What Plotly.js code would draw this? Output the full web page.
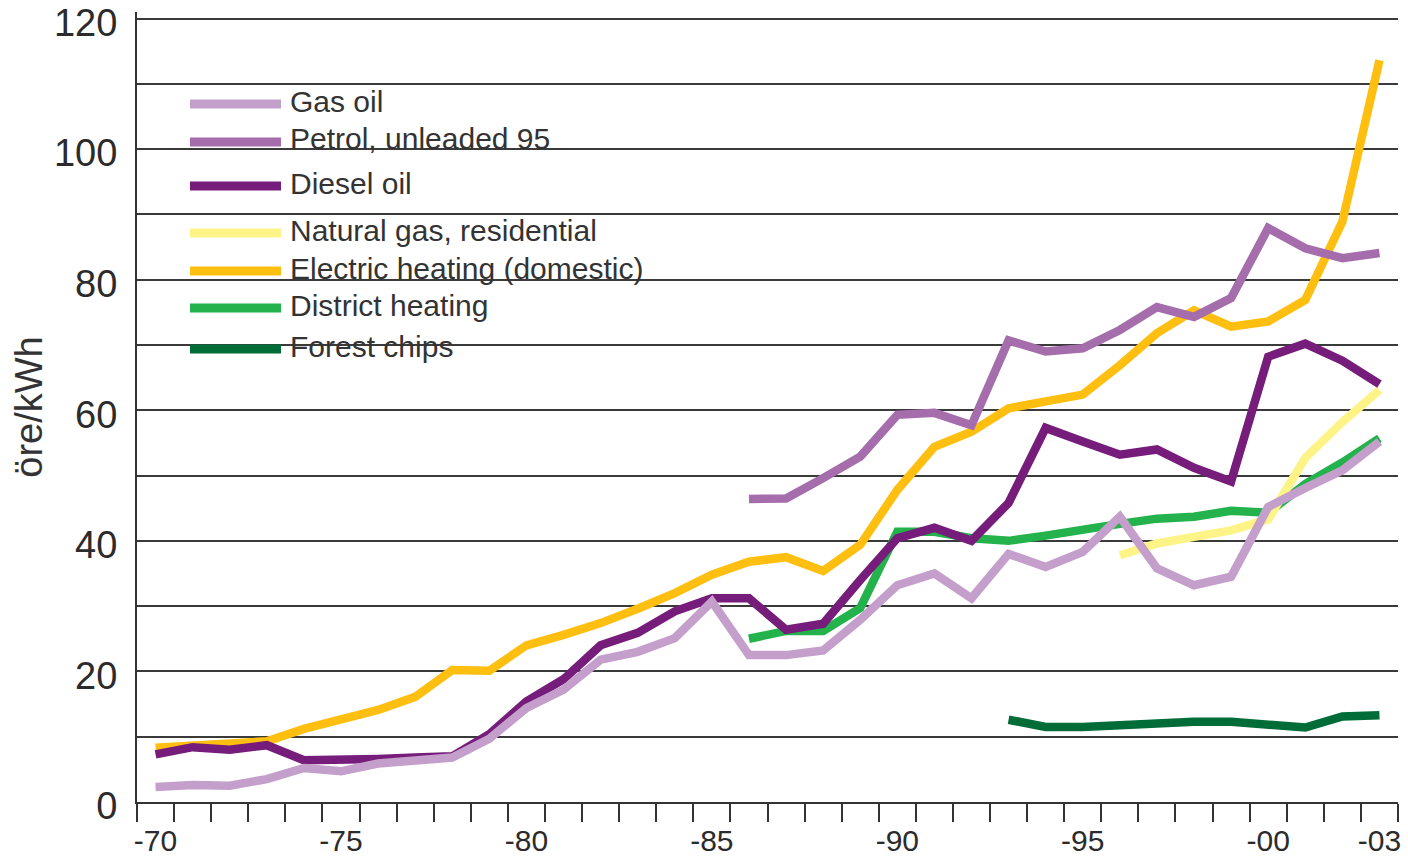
<!DOCTYPE html>
<html>
<head>
<meta charset="utf-8">
<script src="https://cdn.plot.ly/plotly-3.0.1.min.js"></script>
<style>
  html, body { margin: 0; padding: 0; background: #fff; }
  #chart { width: 1408px; height: 858px; }
</style>
</head>
<body>
<div id="chart"></div>
<script>
    // energy prices, öre/kWh, 1970 - 2003
    var years = [1970, 1971, 1972, 1973, 1974, 1975, 1976, 1977, 1978, 1979,
                 1980, 1981, 1982, 1983, 1984, 1985, 1986, 1987, 1988, 1989,
                 1990, 1991, 1992, 1993, 1994, 1995, 1996, 1997, 1998, 1999,
                 2000, 2001, 2002, 2003];

    var seriesNames = ['Gas oil', 'Petrol, unleaded 95', 'Diesel oil', 'Natural gas, residential',
                       'Electric heating (domestic)', 'District heating', 'Forest chips'];
    var seriesColors = ['#c49fcb', '#a56dab', '#761c7a', '#fdf387', '#ffbf10', '#23b24b', '#006d38'];

    var gasOil = [2.3, 2.6, 2.5, 3.5, 5.2, 4.7, 5.9, 6.2, 6.8, 9.7,
                  14.4, 17.2, 21.8, 23.0, 25.1, 30.7, 22.5, 22.5, 23.2, 27.9,
                  33.2, 35.0, 31.2, 38.0, 36.0, 38.3, 43.7, 35.8, 33.2, 34.5,
                  45.2, 48.1, 50.8, 55.2];
    // from 1986
    var petrol = [46.4, 46.5, 49.6, 52.9, 59.3, 59.6, 57.7, 70.7, 69.0, 69.5,
                  72.3, 75.8, 74.3, 77.2, 87.9, 84.8, 83.3, 84.1];
    var diesel = [7.3, 8.4, 8.0, 8.7, 6.4, 6.4, 6.6, 6.8, 7.0, 10.4,
                  15.4, 18.8, 24.0, 25.9, 29.2, 31.2, 31.2, 26.4, 27.3, 34.0,
                  40.4, 42.0, 40.0, 45.8, 57.3, 55.2, 53.2, 54.0, 51.2, 49.1,
                  68.2, 70.2, 67.6, 64.0];
    // from 1996
    var naturalGas = [37.8, 39.6, 40.6, 41.6, 43.3, 52.7, 58.2, 63.1];
    var electric = [8.3, 8.6, 8.8, 9.3, 11.2, 12.6, 14.1, 16.1, 20.2, 20.1,
                    24.0, 25.6, 27.4, 29.6, 32.0, 34.8, 36.8, 37.5, 35.4, 39.4,
                    47.8, 54.4, 56.7, 60.3, 61.2, 62.4, 66.9, 71.8, 75.3, 72.8,
                    73.6, 76.9, 88.9, 113.6];
    // from 1986
    var district = [25.0, 26.2, 26.2, 29.7, 41.4, 41.4, 40.4, 40.0, 40.8, 41.8,
                    42.6, 43.4, 43.7, 44.6, 44.3, 48.7, 52.0, 55.7];
    // from 1993
    var forestChips = [12.6, 11.5, 11.5, 11.8, 12.0, 12.3, 12.3, 11.9, 11.4, 13.1, 13.3];

    var xTickVals = [1970, 1975, 1980, 1985, 1990, 1995, 2000, 2003];
    var xTickText = ['-70', '-75', '-80', '-85', '-90', '-95', '-00', '-03'];
    var yTickVals = [0, 10, 20, 30, 40, 50, 60, 70, 80, 90, 100, 110, 120];
    var yTickText = ['0', '', '20', '', '40', '', '60', '', '80', '', '100', '', '120'];

    var allValues = [gasOil, petrol, diesel, naturalGas, electric, district, forestChips];

    var W = 1408, H = 858;
    var M = {l: 137, r: 10, t: 12, b: 56};
    var font = 'Liberation Sans, Arial, Helvetica, sans-serif';

    // series that start later use the last years only
    function yearsFor(values) {
        return years.slice(years.length - values.length);
    }

    var traces = [];
    // draw from the bottom of the legend up so gas oil ends on top
    for (var i = allValues.length - 1; i >= 0; i--) {
        traces.push({
            x: yearsFor(allValues[i]),
            y: allValues[i],
            name: seriesNames[i],
            type: 'scatter',
            mode: 'lines',
            line: {color: seriesColors[i], width: 8.5, shape: 'linear'},
            showlegend: false,
            hoverinfo: 'x+y+name'
        });
    }

    // legend drawn by hand: long line samples like the original
    var legendRows = [104, 142, 186, 233, 271, 308, 349];
    function pX(px) { return (px - M.l) / (W - M.l - M.r); }
    function pY(py) { return (H - M.b - py) / (H - M.t - M.b); }

    var shapes = [];
    var annotations = [];
    seriesNames.forEach(function (name, i) {
        shapes.push({
            type: 'line', xref: 'paper', yref: 'paper',
            x0: pX(190), x1: pX(281), y0: pY(legendRows[i]), y1: pY(legendRows[i]),
            line: {color: seriesColors[i], width: 9}, layer: 'above'
        });
        annotations.push({
            xref: 'paper', yref: 'paper', x: pX(288), y: pY(legendRows[i] - 3),
            xanchor: 'left', yanchor: 'middle', showarrow: false,
            text: name, font: {family: font, size: 30, color: '#333'}
        });
    });

    var layout = {
        width: W,
        height: H,
        margin: M,
        paper_bgcolor: '#fff',
        plot_bgcolor: '#fff',
        showlegend: false,
        xaxis: {
            range: [1969.5, 2003.5],
            tickmode: 'array',
            tickvals: xTickVals,
            ticktext: xTickText,
            ticks: '',
            showgrid: false,
            zeroline: false,
            showline: true,
            linecolor: '#333',
            linewidth: 2,
            ticklabelstandoff: 11,
            tickfont: {family: font, size: 30, color: '#2b2b2b'},
            minor: {tick0: 1969.5, dtick: 1, ticks: 'outside', ticklen: 18, tickwidth: 2, tickcolor: '#333', showgrid: false}
        },
        yaxis: {
            range: [0, 121],
            tickmode: 'array',
            tickvals: yTickVals,
            ticktext: yTickText,
            ticks: '',
            showgrid: true,
            gridcolor: '#3a3a3a',
            gridwidth: 2,
            zeroline: false,
            showline: true,
            linecolor: '#333',
            linewidth: 2,
            ticklabelstandoff: 10,
            ticklabelshift: 4,
            ticklabeloverflow: 'allow',
            tickfont: {family: font, size: 38, color: '#2b2b2b'},
            title: {text: 'öre/kWh', standoff: 0, font: {family: font, size: 38, color: '#333'}}
        },
        shapes: shapes,
        annotations: annotations
    };

    Plotly.newPlot('chart', traces, layout, {displayModeBar: false, responsive: false});
</script>
</body>
</html>
